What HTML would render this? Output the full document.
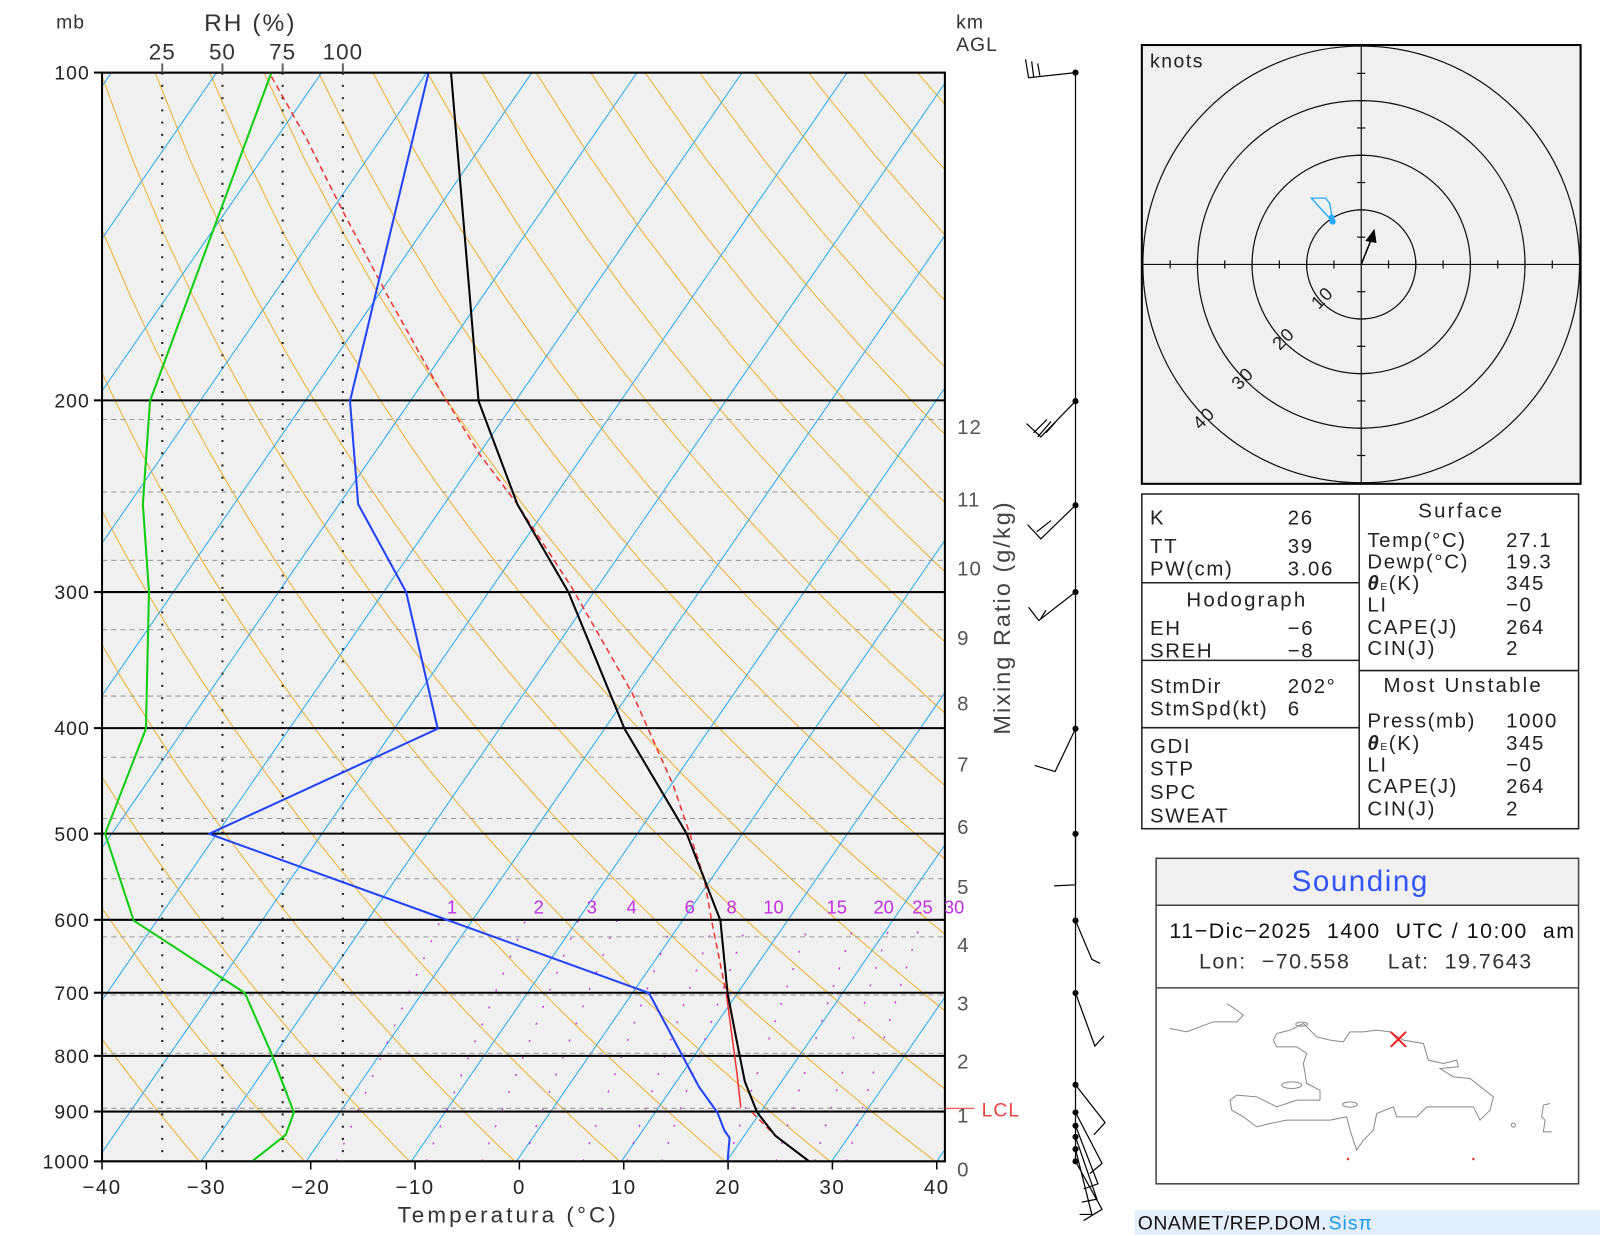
<!DOCTYPE html>
<html><head><meta charset="utf-8">
<style>
html,body{margin:0;padding:0;background:#fff;}
svg{display:block;}
text{font-family:"Liberation Sans",sans-serif;white-space:pre;}
</style></head>
<body>
<svg id="s" width="1600" height="1236" viewBox="0 0 1568 1211" xmlns="http://www.w3.org/2000/svg" xml:space="preserve">
<rect x="0" y="0" width="1568" height="1211" fill="#fff"/>
<defs><clipPath id="cp"><rect x="100" y="71" width="826" height="1067"/></clipPath></defs>
<rect x="100" y="71" width="826" height="1067" fill="#f0f0f0"/>
<g id="grid" clip-path="url(#cp)"></g>
<g id="curves" clip-path="url(#cp)" fill="none" stroke-linejoin="round">
  <polyline points="266,75 300,135 335,205 380,290 430,380 470,445 507,494 560,575 620,680 660,770 676,817 690,860 697,900 706,945 712,975" stroke="#ee3333" stroke-width="1.5" stroke-dasharray="6,4"/>
  <polyline points="712,975 718,1020 722,1050 726,1085" stroke="#ee3333" stroke-width="1.5"/>
  <polyline points="737,1090 760,1113 793,1138" stroke="#ee3333" stroke-width="1.5" stroke-dasharray="6,4"/>
  <polyline points="266,71 147,393 140,494 146,580 143,714 103,817 131,902 240,973 265,1030 288,1090 280,1112 247,1138" stroke="#11cc11" stroke-width="2"/>
  <polyline points="420,71 343,393 351,494 398,580 429,714 205,817 636,973 660,1018 685,1065 703,1090 710,1108 715,1115 713,1138" stroke="#2244ff" stroke-width="2"/>
  <polyline points="442,71 469,393 507,494 557,580 612,714 673,817 706,902 713,973 722,1020 730,1060 742,1090 760,1113 793,1138" stroke="#000" stroke-width="2"/>
</g>
<rect x="100" y="71" width="826" height="1067" fill="none" stroke="#000" stroke-width="2"/>
<g id="labels" fill="#222"></g>

<text x="55" y="28" font-size="19" fill="#333" letter-spacing="1">mb</text>
<text x="200" y="30" font-size="24" fill="#333" letter-spacing="2">RH (%)</text>
<g font-size="22" fill="#333" text-anchor="middle" letter-spacing="1">
<text x="159" y="58">25</text><text x="218" y="58">50</text><text x="277" y="58">75</text><text x="336" y="58">100</text>
</g>
<text x="937" y="28" font-size="19" fill="#333" letter-spacing="1">km</text>
<text x="937" y="50" font-size="19" fill="#333" letter-spacing="1">AGL</text>
<text x="498" y="1198" font-size="22" fill="#333" text-anchor="middle" letter-spacing="3">Temperatura (°C)</text>
<text transform="translate(990,605) rotate(-90)" font-size="23" fill="#444" text-anchor="middle" letter-spacing="2">Mixing Ratio (g/kg)</text>
<line x1="926" y1="1086" x2="955" y2="1086" stroke="#ee4444" stroke-width="1.2"/>
<text x="962" y="1094" font-size="19" fill="#ee4444" letter-spacing="1">LCL</text>

<g stroke="#000" stroke-width="1.2" fill="none">
<line x1="1054" y1="71" x2="1054" y2="1140"/>
<polyline points="1054,71 1008,76 1005,58"/><line x1="1013" y1="75" x2="1011" y2="60"/><line x1="1019" y1="74" x2="1017" y2="62"/>
<polyline points="1054,393 1020,428 1006,415"/><line x1="1013" y1="424" x2="1026" y2="411"/><line x1="1017" y1="428" x2="1030" y2="413"/><line x1="1025" y1="424" x2="1034" y2="414"/>
<polyline points="1054,495 1020,528 1007,514"/><line x1="1016" y1="521" x2="1030" y2="510"/>
<polyline points="1054,580 1018,608 1008,595"/><line x1="1020" y1="606" x2="1025" y2="598"/>
<polyline points="1054,714 1034,756 1014,750"/>
<polyline points="1054,817 1054,867 1033,868"/>
<polyline points="1054,902 1070,940 1078,944"/>
<polyline points="1054,973 1073,1025 1082,1015"/>
<polyline points="1054,1063 1083,1100 1072,1112"/>
<polyline points="1054,1090 1080,1140 1068,1150"/>
<polyline points="1054,1103 1076,1160 1062,1165"/>
<polyline points="1054,1114 1075,1175 1060,1178"/>
<polyline points="1054,1126 1070,1190 1058,1190"/>
<polyline points="1054,1138 1080,1185 1062,1196"/>
</g>
<g fill="#000">
<circle cx="1054" cy="71" r="3"/><circle cx="1054" cy="393" r="3"/><circle cx="1054" cy="495" r="3"/><circle cx="1054" cy="580" r="3"/><circle cx="1054" cy="714" r="3"/><circle cx="1054" cy="817" r="3"/><circle cx="1054" cy="902" r="3"/><circle cx="1054" cy="973" r="3"/><circle cx="1054" cy="1063" r="3"/><circle cx="1054" cy="1090" r="3"/><circle cx="1054" cy="1103" r="3"/><circle cx="1054" cy="1114" r="3"/><circle cx="1054" cy="1126" r="3"/><circle cx="1054" cy="1138" r="3"/>
</g>

<rect x="1119" y="44" width="430" height="430" fill="#f0f0f0" stroke="#000" stroke-width="2"/>
<g fill="none" stroke="#111" stroke-width="1.2">
<circle cx="1334" cy="259" r="53.5"/><circle cx="1334" cy="259" r="107"/><circle cx="1334" cy="259" r="160.5"/><circle cx="1334" cy="259" r="214"/>
<line x1="1119" y1="259" x2="1549" y2="259"/><line x1="1334" y1="44" x2="1334" y2="474"/>
</g>
<g id="hticks" stroke="#111" stroke-width="1.2"></g>
<text x="1127" y="66" font-size="19" fill="#222" letter-spacing="1.5">knots</text>
<g font-size="18" fill="#222" text-anchor="middle" letter-spacing="1">
<text transform="translate(1300,296) rotate(-45)">10</text>
<text transform="translate(1262,336) rotate(-45)">20</text>
<text transform="translate(1222,375) rotate(-45)">30</text>
<text transform="translate(1184,414) rotate(-45)">40</text>
</g>
<polygon points="1285,194 1299,194 1303,199 1305,210 1306,217" fill="none" stroke="#22aaff" stroke-width="1.3"/>
<circle cx="1305" cy="213" r="3" fill="#22aaff"/><circle cx="1306" cy="217" r="3" fill="#22aaff"/>
<line x1="1334" y1="259" x2="1344" y2="234" stroke="#000" stroke-width="1.5"/>
<polygon points="1347,224 1338,236 1349,238" fill="#000"/>

<g fill="none" stroke="#222" stroke-width="1.5">
<rect x="1119" y="484" width="428" height="328"/>
<line x1="1332" y1="484" x2="1332" y2="812"/>
<line x1="1119" y1="571" x2="1332" y2="571"/>
<line x1="1119" y1="647" x2="1332" y2="647"/>
<line x1="1119" y1="713" x2="1332" y2="713"/>
<line x1="1332" y1="657" x2="1547" y2="657"/>
</g>
<g font-size="20" fill="#222" letter-spacing="1.6">
<text x="1127" y="514">K</text><text x="1262" y="514">26</text>
<text x="1127" y="542">TT</text><text x="1262" y="542">39</text>
<text x="1127" y="564">PW(cm)</text><text x="1262" y="564">3.06</text>
<text x="1222" y="594" text-anchor="middle" letter-spacing="2.2">Hodograph</text>
<text x="1127" y="622">EH</text><text x="1262" y="622">−6</text>
<text x="1127" y="644">SREH</text><text x="1262" y="644">−8</text>
<text x="1127" y="679">StmDir</text><text x="1262" y="679">202°</text>
<text x="1127" y="701">StmSpd(kt)</text><text x="1262" y="701">6</text>
<text x="1127" y="738">GDI</text>
<text x="1127" y="760">STP</text>
<text x="1127" y="783">SPC</text>
<text x="1127" y="806">SWEAT</text>
<text x="1432" y="507" text-anchor="middle" letter-spacing="2.2">Surface</text>
<text x="1340" y="536">Temp(°C)</text><text x="1476" y="536">27.1</text>
<text x="1340" y="557">Dewp(°C)</text><text x="1476" y="557">19.3</text>
<text x="1340" y="578"><tspan font-style="italic" font-weight="bold">θ</tspan><tspan font-size="10">E</tspan>(K)</text><text x="1476" y="578">345</text>
<text x="1340" y="599">LI</text><text x="1476" y="599">−0</text>
<text x="1340" y="621">CAPE(J)</text><text x="1476" y="621">264</text>
<text x="1340" y="642">CIN(J)</text><text x="1476" y="642">2</text>
<text x="1434" y="678" text-anchor="middle" letter-spacing="2.2">Most Unstable</text>
<text x="1340" y="713">Press(mb)</text><text x="1476" y="713">1000</text>
<text x="1340" y="735"><tspan font-style="italic" font-weight="bold">θ</tspan><tspan font-size="10">E</tspan>(K)</text><text x="1476" y="735">345</text>
<text x="1340" y="756">LI</text><text x="1476" y="756">−0</text>
<text x="1340" y="777">CAPE(J)</text><text x="1476" y="777">264</text>
<text x="1340" y="799">CIN(J)</text><text x="1476" y="799">2</text>
</g>

<rect x="1133" y="841" width="414" height="46" fill="#f0f0f0"/>
<g fill="none" stroke="#444" stroke-width="1.5">
<rect x="1133" y="841" width="414" height="319"/>
<line x1="1133" y1="887" x2="1547" y2="887"/>
<line x1="1133" y1="968" x2="1547" y2="968"/>
</g>
<text x="1333" y="873" font-size="29" fill="#3355ff" text-anchor="middle" letter-spacing="1.5">Sounding</text>
<text x="1146" y="919" font-size="21" fill="#111" letter-spacing="1.5">11−Dic−2025  1400  UTC / 10:00  am</text>
<text x="1175" y="949" font-size="21" fill="#333" letter-spacing="1.5">Lon:  −70.558     Lat:  19.7643</text>
<g transform="translate(1087.8,813.4) scale(0.3267)" fill="none" stroke="#888" stroke-width="3">
<polyline points="180,595 230,605 270,590 310,575 380,575 400,555 380,540 350,520"/>
<polyline points="490,630 500,610 540,600 580,580 620,620 660,630 700,635 720,605 760,605 800,600 840,605 880,630 940,640 955,690 1000,700 1040,690 1045,710 990,715 1030,740 1080,745 1150,800 1140,840 1110,870 1090,830 950,830 920,860 860,860 850,830 800,850 790,900 760,930 740,960 720,900 710,860 660,870 600,870 530,870 480,880 440,890 400,860 365,840 360,810 380,795 440,800 500,830 560,810 630,810 630,780 590,760 580,700 590,670 560,650 500,650 490,630"/>
<ellipse cx="545" cy="765" rx="30" ry="10"/><ellipse cx="720" cy="823" rx="22" ry="8"/><ellipse cx="575" cy="582" rx="18" ry="6"/>
<polyline points="1320,820 1300,825 1295,860 1305,870 1300,905 1325,905"/>
<circle cx="1210" cy="885" r="6"/>
</g>
<g transform="translate(1087.8,813.4) scale(0.3267)" stroke="#ee2222" stroke-width="6">
<line x1="842" y1="605" x2="888" y2="650"/><line x1="888" y1="605" x2="842" y2="650"/>
<line x1="713" y1="983" x2="715" y2="990"/><line x1="1089" y1="983" x2="1091" y2="990"/>
</g>

<rect x="1112" y="1186" width="456" height="24" fill="#e3eefc"/>
<text x="1115" y="1205" font-size="19" fill="#111" letter-spacing="0.5">ONAMET/REP.DOM.</text>
<text x="1302" y="1205" font-size="19" fill="#1a9af0" letter-spacing="1">Sisπ</text>

<script>
(function(){
var NS="http://www.w3.org/2000/svg";
function Y(p){return 1138-Math.log10(1000/p)*1067;}
function X(T,p){return 506+10.3*T+0.69*(1138-Y(p));}
function el(tag,attrs,parent){var e=document.createElementNS(NS,tag);for(var k in attrs)e.setAttribute(k,attrs[k]);parent.appendChild(e);return e;}
var g=document.getElementById('grid');
for(var th=233;th<=493;th+=10){var pts=[];for(var p=1000;p>=100;p-=20){var T=th*Math.pow(p/1000,0.2857)-273.15;pts.push(X(T,p).toFixed(1)+","+Y(p).toFixed(1));}
el('polyline',{points:pts.join(' '),fill:'none',stroke:'#f0b030','stroke-width':1},g);}
for(var T=-130;T<=40;T+=10){el('line',{x1:X(T,1000),y1:1138,x2:X(T,100),y2:71,stroke:'#29a8f0','stroke-width':1},g);}
var ws=[1,2,3,4,6,8,10,15,20,25,30];
ws.forEach(function(w){var pts=[];for(var p=1000;p>=600;p-=20){var e=w*p/(622+w);var l=Math.log(e/6.112);var Td=243.5*l/(17.67-l);pts.push(X(Td,p).toFixed(1)+","+Y(p).toFixed(1));}
el('polyline',{points:pts.join(' '),fill:'none',stroke:'#c030e0','stroke-width':1.3,'stroke-dasharray':'2,16'},g);});
[1086,1032,975,918,861,802,742,682,617,549,482,411].forEach(function(y){el('line',{x1:100,y1:y,x2:926,y2:y,stroke:'#999','stroke-width':1,'stroke-dasharray':'5,4'},g);});
[159,218,277,336].forEach(function(x){el('line',{x1:x,y1:71,x2:x,y2:1138,stroke:'#222','stroke-width':2,'stroke-dasharray':'2,10'},g);});
[100,200,300,400,500,600,700,800,900,1000].forEach(function(p){el('line',{x1:100,y1:Y(p),x2:926,y2:Y(p),stroke:'#000','stroke-width':2},g);});
var L=document.getElementById('labels');
[100,200,300,400,500,600,700,800,900,1000].forEach(function(p){var y=Y(p);el('line',{x1:92,y1:y,x2:100,y2:y,stroke:'#000','stroke-width':2},L);
var t=el('text',{x:88,y:y+7,'font-size':19,'text-anchor':'end',fill:'#222','letter-spacing':1},L);t.textContent=p;});
[159,218,277,336].forEach(function(x){el('line',{x1:x,y1:62,x2:x,y2:71,stroke:'#666','stroke-width':2},L);});
for(var T=-40;T<=40;T+=10){var x=100+(T+40)*10.225;el('line',{x1:x,y1:1138,x2:x,y2:1146,stroke:'#000','stroke-width':1.5},L);
var t=el('text',{x:x,y:1170,'font-size':20,'text-anchor':'middle',fill:'#222','letter-spacing':1.5},L);t.textContent=(T<0?'\u2212'+(-T):T);}
var lab=[[1,443],[2,528],[3,580],[4,619],[6,676],[8,717],[10,758],[15,820],[20,866],[25,904],[30,935]];
lab.forEach(function(a){var t=el('text',{x:a[1],y:895,'font-size':18,'text-anchor':'middle',fill:'#c030e0'},L);t.textContent=a[0];});
var km=[[0,1146],[1,1093],[2,1040],[3,983],[4,926],[5,869],[6,810],[7,749],[8,689],[9,625],[10,557],[11,489],[12,418]];
km.forEach(function(a){var t=el('text',{x:938,y:a[1]+7,'font-size':20,fill:'#555','letter-spacing':1},L);t.textContent=a[0];});
var H=document.getElementById('hticks');
for(var i=-8;i<=8;i++){if(i==0)continue;var d=i*26.75;
el('line',{x1:1334+d,y1:255,x2:1334+d,y2:263},H);el('line',{x1:1330,y1:259+d,x2:1338,y2:259+d},H);}
})();
</script>
</svg>
</body></html>
